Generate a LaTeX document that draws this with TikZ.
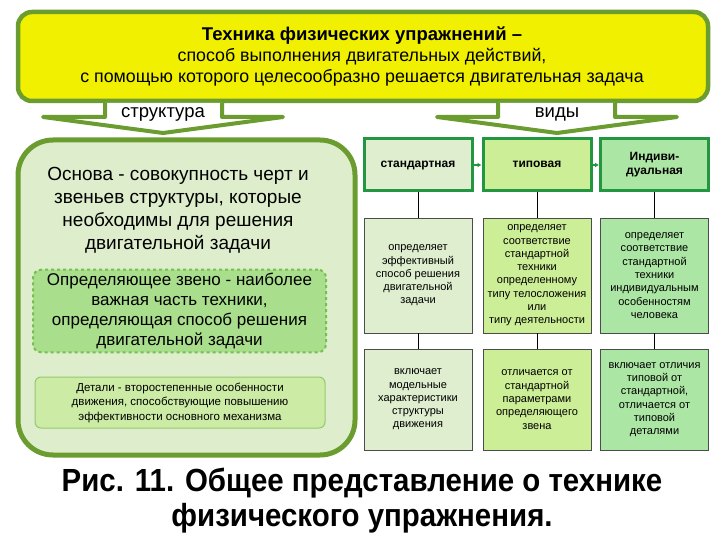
\documentclass[tikz,border=0pt]{standalone}
\usepackage{fontspec}
\setmainfont{Liberation Sans}
\newfontfamily\capfont[FakeStretch=0.92]{Liberation Sans}
\usetikzlibrary{arrows.meta}
\definecolor{ygreen}{RGB}{106,156,48}
\definecolor{yfill}{RGB}{240,240,0}
\definecolor{bigfill}{RGB}{222,238,204}
\definecolor{dashfill}{RGB}{168,222,140}
\definecolor{dashline}{RGB}{118,190,78}
\definecolor{detfill}{RGB}{204,236,166}
\definecolor{detline}{RGB}{150,200,110}
\definecolor{hdrline}{RGB}{34,150,64}
\definecolor{cA}{RGB}{222,238,206}
\definecolor{cB}{RGB}{204,238,150}
\definecolor{cC}{RGB}{172,230,164}
\begin{document}
\begin{tikzpicture}[x=1pt,y=-1pt,
  hdr/.style={draw=hdrline, line width=3pt, minimum width=108pt, minimum height=52pt,
    align=center, font=\bfseries\fontsize{12}{14}\selectfont, inner sep=1pt},
  cell/.style={draw=black!70, line width=0.8pt, minimum width=108pt, align=center,
    font=\fontsize{11}{13.3}\selectfont, inner sep=1pt},
  link/.style={draw=black, line width=0.8pt},
  smallarr/.style={draw=hdrline, line width=2pt, -{Latex[length=4pt,width=5pt]}},
  blockarr/.style={draw=ygreen, line width=4pt, fill=white, line join=round},
  lbl/.style={font=\fontsize{18.5}{20}\selectfont, inner sep=0pt}
]
\useasboundingbox (0,0) rectangle (720,540);

% top yellow box
\draw[draw=ygreen, fill=yfill, line width=4.5pt, rounded corners=14pt] (18,12) rectangle (708,101);
\node[font=\bfseries\fontsize{18.5}{20}\selectfont] (t1) at (362,36) {Техника физических упражнений –};
\node[font=\fontsize{17.8}{20}\selectfont] (t2) at (362,57) {способ выполнения двигательных действий,};
\node[font=\fontsize{17.8}{20}\selectfont] (t3) at (362,78) {с помощью которого целесообразно решается двигательная задача};

% block arrows
\draw[blockarr] (105,103) -- (105,117) -- (43,117) -- (163,133) -- (283,117) -- (222,117) -- (222,103);
\node[lbl] (s) at (163,114) {структура};
\draw[blockarr] (498,103) -- (498,117) -- (437,117) -- (557,133) -- (677,117) -- (615,117) -- (615,103);
\node[lbl] (v) at (557,114) {виды};

% big left box
\draw[draw=ygreen, fill=bigfill, line width=5pt, rounded corners=35pt] (18,140) rectangle (355,455);
\node[align=center, font=\fontsize{19}{23}\selectfont] (osn) at (178,210)
  {Основа - совокупность черт и\\звеньев структуры, которые\\необходимы для решения\\двигательной задачи};
\node[draw=dashline, dashed, line width=2pt, fill=dashfill, rounded corners=8pt,
  minimum width=293pt, minimum height=82pt, align=center,
  font=\fontsize{17}{20}\selectfont] (opr) at (179.5,311)
  {Определяющее звено - наиболее\\важная часть техники,\\определяющая способ решения\\двигательной задачи};
\node[draw=detline, line width=1pt, fill=detfill, rounded corners=6pt,
  minimum width=290pt, minimum height=51pt, align=center,
  font=\fontsize{11.5}{14.5}\selectfont] (det) at (180,402.5)
  {Детали - второстепенные особенности\\движения, способствующие повышению\\эффективности основного механизма};

% headers
\node[hdr, fill=cA] (h1) at (418,165) {\strut стандартная};
\node[hdr, fill=cB] (h2) at (537,165) {\strut типовая};
\node[hdr, fill=cC] (h3) at (654.5,165) {Индиви-\\дуальная};
\draw[smallarr] (h1.east) -- (h2.west);
\draw[smallarr] (h2.east) -- (h3.west);

% row 2
\node[cell, fill=cA, minimum height=115pt] (a1) at (418,275.5)
  {определяет\\эффективный\\способ решения\\двигательной\\задачи};
\node[cell, fill=cB, minimum height=115pt] (b1) at (537,275.5)
  {определяет\\соответствие\\стандартной\\техники\\определенному\\типу телосложения\\или\\типу деятельности};
\node[cell, fill=cC, minimum height=115pt] (c1) at (654.5,275.5)
  {определяет\\соответствие\\стандартной\\техники\\индивидуальным\\особенностям\\человека};

% row 3
\node[cell, fill=cA, minimum height=101pt] (a2) at (418,399.5)
  {включает\\модельные\\характеристики\\структуры\\движения};
\node[cell, fill=cB, minimum height=101pt] (b2) at (537,399.5)
  {отличается от\\стандартной\\параметрами\\определяющего\\звена};
\node[cell, fill=cC, minimum height=101pt] (c2) at (654.5,399.5)
  {включает отличия\\типовой от\\стандартной,\\отличается от\\типовой\\деталями};

% connectors
\draw[link] (h1.south) -- (a1.north);
\draw[link] (h2.south) -- (b1.north);
\draw[link] (h3.south) -- (c1.north);
\draw[link] (a1.south) -- (a2.north);
\draw[link] (b1.south) -- (b2.north);
\draw[link] (c1.south) -- (c2.north);

% caption
\node[align=center, font=\capfont\bfseries\fontsize{32}{35}\selectfont] (cap) at (362,501)
  {Рис. 11. Общее представление о технике\\физического упражнения.};
\end{tikzpicture}
\end{document}
